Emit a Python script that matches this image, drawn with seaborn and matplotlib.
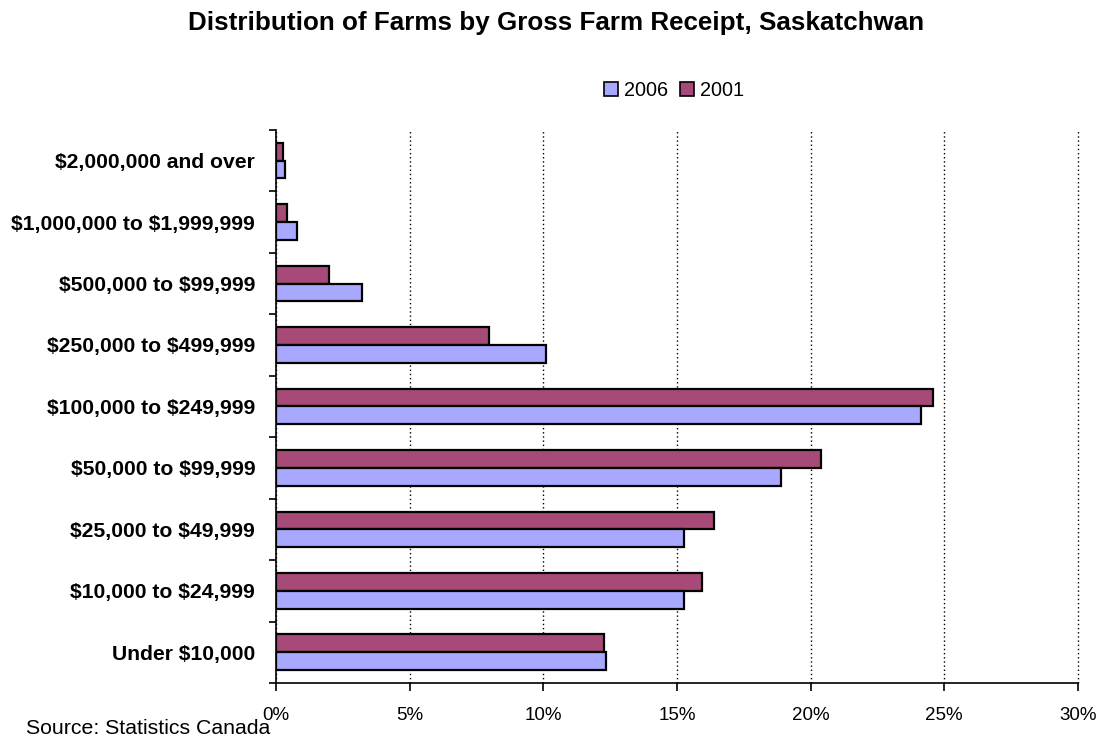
import seaborn as sns
import matplotlib.pyplot as plt
import pandas as pd
import numpy as np
from matplotlib.patches import Patch
from matplotlib.ticker import MultipleLocator, PercentFormatter

# Data
categories = ['$2,000,000 and over', '$1,000,000 to $1,999,999', '$500,000 to $99,999',
              '$250,000 to $499,999', '$100,000 to $249,999', '$50,000 to $99,999',
              '$25,000 to $49,999', '$10,000 to $24,999', 'Under $10,000']
share_2001 = [0.26, 0.40, 2.0, 7.95, 24.6, 20.4, 16.4, 15.95, 12.27]
share_2006 = [0.32, 0.78, 3.2, 10.1, 24.15, 18.9, 15.26, 15.26, 12.36]

df = pd.DataFrame({
    'category': categories * 2,
    'share': share_2001 + share_2006,
    'year': ['2001'] * len(categories) + ['2006'] * len(categories),
})

colors = {'2001': '#A84A78', '2006': '#A8A8FF'}

sns.set_style('white')
plt.rcParams['font.family'] = ['Liberation Sans', 'DejaVu Sans']
plt.rcParams['text.parse_math'] = False
plt.rcParams['text.color'] = 'black'
plt.rcParams['xtick.color'] = 'black'
plt.rcParams['ytick.color'] = 'black'

fig = plt.figure(figsize=(11.02, 7.38), dpi=100)
ax = fig.add_axes([0.2505, 0.0745, 0.7275, 0.7495])

sns.barplot(data=df, x='share', y='category', hue='year', hue_order=['2001', '2006'],
            order=categories, palette=colors, orient='h', width=0.58, gap=0,
            edgecolor='black', linewidth=1.6, legend=False, ax=ax, saturation=1)

ax.set_xlim(0, 30)
ax.set_ylim(len(categories) - 0.5, -0.5)
ax.xaxis.set_major_locator(MultipleLocator(5))
ax.xaxis.set_major_formatter(PercentFormatter(decimals=0))
ax.grid(axis='x', color='black', linestyle=(0, (1, 2)), linewidth=1.0)
ax.grid(axis='y', visible=False)
ax.set_axisbelow(True)
for gl in ax.get_xgridlines():
    gl.set_clip_on(False)

for s in ['top', 'right']:
    ax.spines[s].set_visible(False)
for s in ['left', 'bottom']:
    ax.spines[s].set_color('black')
    ax.spines[s].set_linewidth(1.2)

ax.set_xlabel('')
ax.set_ylabel('')
ax.tick_params(axis='x', which='major', direction='out', length=6, width=1.2,
               color='black', bottom=True, labelsize=13.5, pad=11)
ax.tick_params(axis='y', which='major', length=0, labelsize=15.2, pad=15)
ax.set_yticks(np.arange(-0.5, len(categories), 1), minor=True)
ax.tick_params(axis='y', which='minor', direction='out', length=5, width=1.2,
               color='black', left=True)
for lbl in ax.get_yticklabels():
    lbl.set_fontweight('bold')

fig.suptitle('Distribution of Farms by Gross Farm Receipt, Saskatchwan',
             x=0.505, y=0.985, fontsize=18.7, fontweight='bold')

handles = [Patch(facecolor=colors['2006'], edgecolor='black', linewidth=1.2, label='2006'),
           Patch(facecolor=colors['2001'], edgecolor='black', linewidth=1.2, label='2001')]
fig.legend(handles=handles, loc='center', bbox_to_anchor=(0.612, 0.878), ncol=2,
           frameon=False, fontsize=14.3, handlelength=0.7, handleheight=0.7,
           handletextpad=0.3, columnspacing=0.6)

fig.text(0.024, 0.0, 'Source: Statistics Canada', fontsize=15.3, ha='left', va='bottom')

fig.savefig('out.png', dpi=100)
